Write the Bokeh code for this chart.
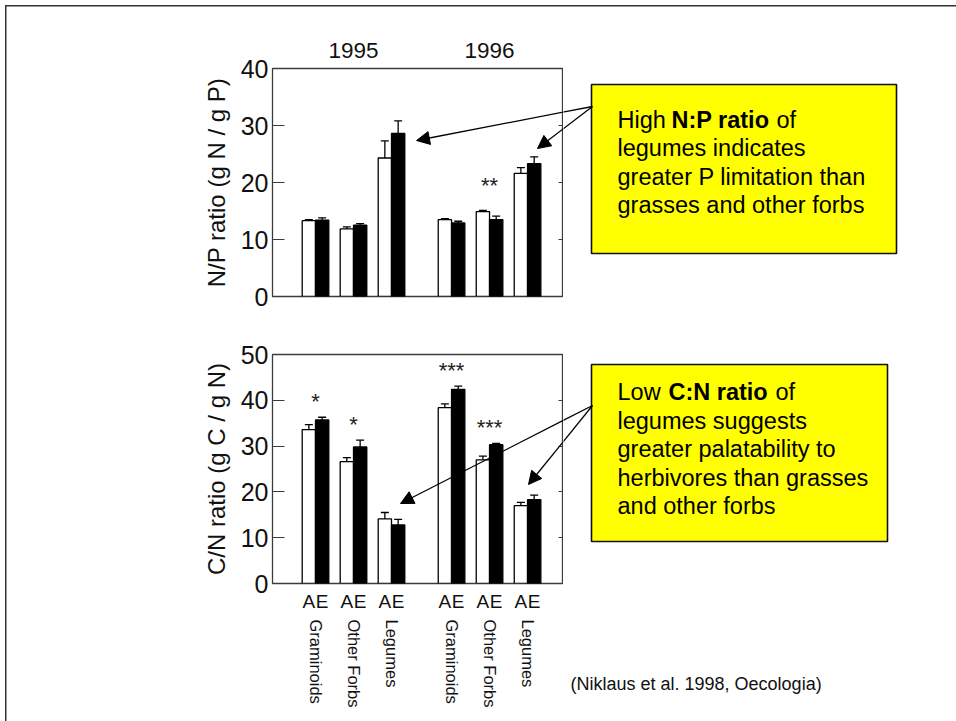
from bokeh.plotting import figure
from bokeh.models import (ColumnDataSource, FixedTicker, LinearAxis, Whisker, TeeHead,
                          Arrow, NormalHead, BoxAnnotation, Label, Range1d)
from bokeh.layouts import column, row
from bokeh.embed import file_html
from bokeh.resources import INLINE
from bokeh.core.properties import value

# ---- data: Niklaus et al. 1998 (A = ambient CO2, E = elevated CO2) ----
years = ["1995", "1996"]
groups = ["Graminoids", "Other Forbs", "Legumes"]
treatments = ["A", "E"]

# N/P ratio (g N / g P), order: 1995 groups then 1996 groups
np_ambient = [13.3, 11.85, 24.3, 13.5, 14.9, 21.6]
np_ambient_se = [0.2, 0.35, 3.0, 0.15, 0.2, 1.0]
np_elevated = [13.4, 12.5, 28.6, 12.9, 13.5, 23.3]
np_elevated_se = [0.4, 0.3, 2.2, 0.3, 0.6, 1.2]
np_sig = ["", "", "", "", "**", ""]

# C/N ratio (g C / g N)
cn_ambient = [33.6, 26.6, 14.1, 38.4, 27.0, 17.0]
cn_ambient_se = [1.1, 0.9, 1.4, 0.8, 0.8, 0.7]
cn_elevated = [35.7, 29.8, 12.8, 42.4, 30.3, 18.3]
cn_elevated_se = [0.6, 1.5, 1.2, 0.7, 0.3, 1.0]
cn_sig = ["*", "*", "", "***", "***", ""]

np_ticks = [0, 10, 20, 30, 40]
cn_ticks = [0, 10, 20, 30, 40, 50]

FONT = "Liberation Sans"
FRAME_COLOR = "#3c3c3c"

# ---- page geometry (pixels) ----
PAGE_W, PAGE_H = 956, 721
FRAME_L, FRAME_R = 272, 563
TOP_CANVAS = (0, 330)          # page y of canvas top, canvas height
TOP_FRAME = (68, 296)
BOT_CANVAS = (330, 391)
BOT_FRAME = (354, 583)

# x positions: one unit per pair of bars, with a wider gap between years
PAIR_STEP = 1.0
YEAR_STEP = 3.58
BAR_W = 0.35
centers = [g * PAIR_STEP + y * YEAR_STEP for y in range(len(years)) for g in range(len(groups))]
X0 = -(315 - FRAME_L) / 38.0
X1 = (FRAME_R - 315) / 38.0


def px_x(px):
    return X0 + (px - FRAME_L) * (X1 - X0) / (FRAME_R - FRAME_L)


def px_y(py, frame, ymax):
    t, b = frame
    return ymax * (b - py) / (b - t)


def make_chart(ymax, ticks, ylabel, amb, amb_se, ele, ele_se, sig, canvas, frame, star_gap):
    top, h = canvas
    ft, fb = frame
    p = figure(frame_width=FRAME_R - FRAME_L, frame_height=fb - ft,
               min_border_left=FRAME_L, min_border_right=0,
               min_border_top=ft - top, min_border_bottom=top + h - fb,
               x_range=Range1d(X0, X1), y_range=Range1d(0, ymax),
               x_axis_location=None, y_axis_location="left",
               output_backend="svg", toolbar_location=None)
    p.grid.visible = False
    p.outline_line_color = FRAME_COLOR
    p.outline_line_width = 1.3
    p.background_fill_color = "white"
    p.border_fill_color = None

    ax = p.yaxis[0]
    ax.ticker = FixedTicker(ticks=ticks)
    ax.major_tick_in = 12
    ax.major_tick_out = 0
    ax.minor_tick_line_color = None
    ax.major_tick_line_color = FRAME_COLOR
    ax.axis_line_color = FRAME_COLOR
    ax.major_label_text_font = FONT
    ax.major_label_text_font_size = "25px"
    ax.major_label_text_color = "#111111"
    ax.major_label_standoff = 4
    ax.axis_label = ylabel
    ax.axis_label_text_font = FONT
    ax.axis_label_text_font_size = "24px"
    ax.axis_label_text_font_style = "normal"
    ax.axis_label_text_color = "#111111"
    ax.axis_label_standoff = 8

    rax = LinearAxis(ticker=FixedTicker(ticks=ticks), major_tick_in=5, major_tick_out=0,
                     minor_tick_line_color=None, axis_line_color=None,
                     major_tick_line_color=FRAME_COLOR, major_label_text_alpha=0,
                     major_label_text_font_size="0px", major_label_standoff=0)
    p.add_layout(rax, "right")

    xa = [c - BAR_W / 2 for c in centers]
    xe = [c + BAR_W / 2 for c in centers]
    src_a = ColumnDataSource(dict(x=xa, top=amb, upper=[v + s for v, s in zip(amb, amb_se)]))
    src_e = ColumnDataSource(dict(x=xe, top=ele, upper=[v + s for v, s in zip(ele, ele_se)]))

    p.vbar(x="x", top="top", bottom=0, width=BAR_W, source=src_a,
           fill_color="white", line_color="black", line_width=1.3)
    p.vbar(x="x", top="top", bottom=0, width=BAR_W, source=src_e,
           fill_color="black", line_color="black", line_width=1.3)
    for src in (src_a, src_e):
        p.add_layout(Whisker(source=src, base="x", lower="top", upper="upper",
                             dimension="height", lower_head=None,
                             upper_head=TeeHead(size=8, line_width=1.3, line_color="black"),
                             line_width=1.3, line_color="black"))

    # significance stars above the pair
    sx, sy, st = [], [], []
    for i, s in enumerate(sig):
        if s:
            sx.append(centers[i])
            sy.append(max(amb[i] + amb_se[i], ele[i] + ele_se[i]) + star_gap)
            st.append(s)
    p.text(x=sx, y=sy, text=st, text_align="center", text_baseline="middle",
           text_font=value(FONT), text_font_size="22px", text_color="#222222")
    return p


p1 = make_chart(40, np_ticks, "N/P ratio (g N / g P)", np_ambient, np_ambient_se,
                np_elevated, np_elevated_se, np_sig, TOP_CANVAS, TOP_FRAME, 4.3)
p2 = make_chart(50, cn_ticks, "C/N ratio (g C / g N)", cn_ambient, cn_ambient_se,
                cn_elevated, cn_elevated_se, cn_sig, BOT_CANVAS, BOT_FRAME, 3.4)

# year labels above the upper chart
year_ticks = [centers[1], centers[4]]
yax = LinearAxis(ticker=FixedTicker(ticks=year_ticks),
                 major_label_overrides={t: y for t, y in zip(year_ticks, years)},
                 major_tick_in=0, major_tick_out=0, axis_line_color=None,
                 minor_tick_line_color=None, major_label_standoff=11,
                 major_label_text_font=FONT, major_label_text_font_size="22.5px",
                 major_label_text_color="#111111")
p1.add_layout(yax, "above")

# A / E labels and plant group names under the lower chart
ae_ticks, ae_labels = [], {}
for c in centers:
    for k, t in enumerate(treatments):
        pos = c + (k - 0.5) * BAR_W
        ae_ticks.append(pos)
        ae_labels[pos] = t
ae_axis = LinearAxis(ticker=FixedTicker(ticks=ae_ticks), major_label_overrides=ae_labels,
                     major_tick_in=0, major_tick_out=0, axis_line_color=None,
                     minor_tick_line_color=None, major_label_standoff=7,
                     major_label_text_font=FONT, major_label_text_font_size="19px",
                     major_label_text_color="#111111")
p2.add_layout(ae_axis, "below")
grp_axis = LinearAxis(ticker=FixedTicker(ticks=centers),
                      major_label_overrides={c: groups[i % 3] for i, c in enumerate(centers)},
                      major_tick_in=0, major_tick_out=0, axis_line_color=None,
                      minor_tick_line_color=None, major_label_standoff=5,
                      major_label_orientation="vertical",
                      major_label_text_font=FONT, major_label_text_font_size="16.5px",
                      major_label_text_color="#111111")
p2.add_layout(grp_axis, "below")

# ---- right-hand panel holding the notes, in page pixels ----
R_LEFT = FRAME_R
pr = figure(frame_width=PAGE_W - R_LEFT, frame_height=PAGE_H, min_border=0,
            x_range=Range1d(R_LEFT, PAGE_W), y_range=Range1d(PAGE_H, 0),
            x_axis_location=None, y_axis_location=None,
            output_backend="svg", toolbar_location=None)
pr.grid.visible = False
pr.outline_line_color = None
pr.background_fill_color = None
pr.border_fill_color = None

LH = 28.5
TEXT_SIZE = "23.5px"

notes = [
    dict(chart=p1, frame=TOP_FRAME, ymax=40, box=(591, 84, 896, 253),
         lines=[(617, 119, "High", False), (671, 119, "N:P ratio", True), (776, 119, "of", False),
                (617, 119 + LH, "legumes indicates", False),
                (617, 119 + 2 * LH, "greater P limitation than", False),
                (617, 119 + 3 * LH, "grasses and other forbs", False)],
         arrows=[(592, 106, 416, 140), (592, 106, 537, 148)]),
    dict(chart=p2, frame=BOT_FRAME, ymax=50, box=(591, 364, 887, 541),
         lines=[(617, 391.5, "Low", False), (668, 391.5, "C:N ratio", True), (775, 391.5, "of", False),
                (617, 391.5 + LH, "legumes suggests", False),
                (617, 391.5 + 2 * LH, "greater palatability to", False),
                (617, 391.5 + 3 * LH, "herbivores than grasses", False),
                (617, 391.5 + 4 * LH, "and other forbs", False)],
         arrows=[(592, 405, 400, 503), (592, 405, 528, 484)]),
]


def arrow_head():
    return NormalHead(size=13, fill_color="black", line_color="black", line_width=1)


for n in notes:
    l, t, r, b = n["box"]
    pr.add_layout(BoxAnnotation(left=l, right=r, top=t, bottom=b, fill_color="#ffff00",
                                fill_alpha=1.0, line_color="#111111", line_alpha=1.0,
                                line_width=1.6))
    for (x, y, text, bold) in n["lines"]:
        pr.add_layout(Label(x=x, y=y, text=text, text_font=FONT, text_font_size=TEXT_SIZE,
                            text_font_style="bold" if bold else "normal",
                            text_baseline="middle", text_color="black"))
    for (x0, y0, x1, y1) in n["arrows"]:
        # the arrow crosses from the note panel into the chart frame
        pr.add_layout(Arrow(x_start=x0, y_start=y0, x_end=x1, y_end=y1,
                            line_width=1.3, line_color="black", end=arrow_head()))
        fr, ym = n["frame"], n["ymax"]
        n["chart"].add_layout(Arrow(x_start=px_x(x0), y_start=px_y(y0, fr, ym),
                                    x_end=px_x(x1), y_end=px_y(y1, fr, ym),
                                    line_width=1.3, line_color="black", end=arrow_head()))

pr.add_layout(Label(x=570, y=683, text="(Niklaus et al. 1998, Oecologia)", text_font=FONT,
                    text_font_size="18px", text_baseline="middle", text_color="#111111"))

# slide border along the top and left edges
border_css = {
    "background-image": "linear-gradient(#333333, #333333), linear-gradient(#333333, #333333)",
    "background-size": "951px 1.5px, 1.5px 716px",
    "background-position": "5px 5px, 5px 5px",
    "background-repeat": "no-repeat",
}
layout = row(column(p1, p2, spacing=0), pr, spacing=0, styles=border_css)
open("out.html", "w").write(file_html(layout, INLINE))
